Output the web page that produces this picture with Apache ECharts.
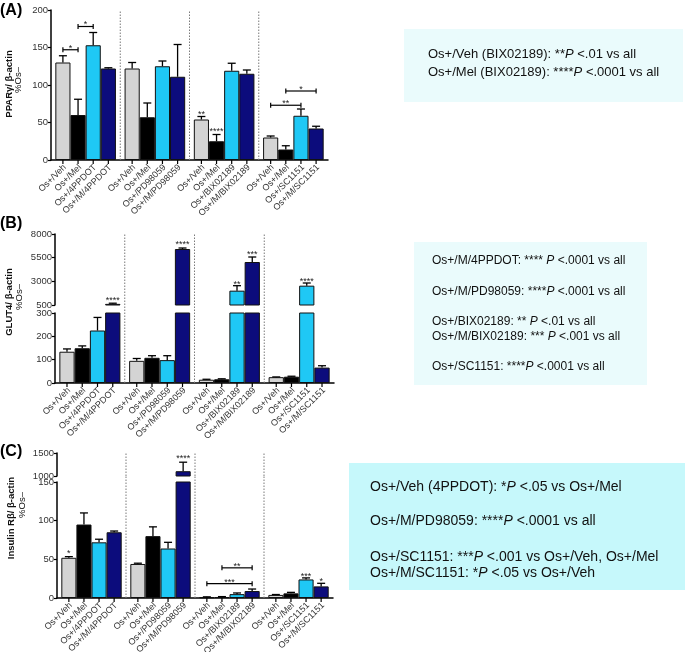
<!DOCTYPE html>
<html><head><meta charset="utf-8">
<script src="https://cdn.jsdelivr.net/npm/echarts/dist/echarts.min.js"></script>
<style>html,body{margin:0;padding:0;background:#fff}#c{width:691px;height:652px}</style>
</head><body><div id="c"></div>
<script>
// ---------- data ----------
const groups = ['4PPDOT', 'PD98059', 'BIX02189', 'SC1151'];
const seriesNames = ['Os+/Veh', 'Os+/Mel', 'Os+/inhibitor', 'Os+/M/inhibitor'];
const tickLabels = ['Os+/Veh','Os+/Mel','Os+/4PPDOT','Os+/M/4PPDOT',
  'Os+/Veh','Os+/Mel','Os+/PD98059','Os+/M/PD98059',
  'Os+/Veh','Os+/Mel','Os+/BIX02189','Os+/M/BIX02189',
  'Os+/Veh','Os+/Mel','Os+/SC1151','Os+/M/SC1151'];
const barColors = ['#d4d4d4', '#000000', '#1fc8f5', '#0c0c7c'];

// (A) PPARγ
const pparVeh  = [130, 122, 54, 30];
const pparMel  = [60, 57, 25, 14];
const pparInh  = [153, 125, 119, 59];
const pparMInh = [122, 111, 115, 42];
const pparVehTop  = [139, 130, 58, 32];
const pparMelTop  = [81, 76, 34, 19];
const pparInhTop  = [170, 132, 129, 68];
const pparMInhTop = [123, 154, 120, 45];
const pparBrackets = [{g:0,from:0,to:1,y:147,text:'*'},{g:0,from:1,to:2,y:178,text:'*'},
  {g:3,from:0,to:2,y:73,text:'**'},{g:3,from:1,to:3,y:92,text:'*'}];
const pparStars = [{g:2,b:0,y:63,text:'**'},{g:2,b:1,y:40,text:'****'}];

// (B) GLUT4
const glutVeh  = [134, 95, 14, 25];
const glutMel  = [149, 108, 16, 27];
const glutInh  = [225, 98, 2014, 2542];
const glutMInh = [620, 6415, 5042, 66];
const glutVehTop  = [146, 105, 16, 26];
const glutMelTop  = [159, 117, 18, 29];
const glutInhTop  = [281, 117, 2540, 2824];
const glutMInhTop = [690, 6520, 5570, 74];
const glutBrackets = [];
const glutStars = [{g:0,b:3,y:1134,text:'****'},{g:1,b:3,y:7049,text:'****'},
  {g:2,b:2,y:2824,text:'**'},{g:2,b:3,y:5993,text:'***'},{g:3,b:2,y:3141,text:'****'}];

// (C) Insulin Rβ
const insVeh  = [52, 44, 1, 4];
const insMel  = [95, 80, 1.3, 6];
const insInh  = [72, 64, 5, 24];
const insMInh = [85, 1104, 9, 15];
const insVehTop  = [53.5, 45, 1.5, 4.5];
const insMelTop  = [110, 92, 1.8, 7.3];
const insInhTop  = [76, 72, 6.5, 26];
const insMInhTop = [86.6, 1300, 11.6, 19];
const insBrackets = [{g:2,from:1,to:3,y:39,text:'**'},{g:2,from:0,to:3,y:18.5,text:'***'}];
const insStars = [{g:0,b:0,y:60,text:'*'},{g:1,b:3,y:1424,text:'****'},
  {g:3,b:2,y:30,text:'***'},{g:3,b:3,y:23.7,text:'*'}];

const boxAText = ['Os+/Veh (BIX02189): **{P} <.01 vs all', 'Os+/Mel (BIX02189): ****{P} <.0001 vs all'];
const boxBText = ['Os+/M/4PPDOT: **** {P} <.0001 vs all', 'Os+/M/PD98059: ****{P} <.0001 vs all',
  'Os+/BIX02189: ** {P} <.01 vs all', 'Os+/M/BIX02189: *** {P} <.001 vs all', 'Os+/SC1151: ****{P} <.0001 vs all'];
const boxCText = ['Os+/Veh (4PPDOT): *{P} <.05 vs Os+/Mel', 'Os+/M/PD98059: ****{P} <.0001 vs all',
  'Os+/SC1151: ***{P} <.001 vs Os+/Veh, Os+/Mel', 'Os+/M/SC1151: *{P} <.05 vs Os+/Veh'];

// ---------- layout ----------
const FF = '"Liberation Sans", Arial, Helvetica, sans-serif';
const GAP = 0.125;
const panels = [
  { means:[pparVeh,pparMel,pparInh,pparMInh], tops:[pparVehTop,pparMelTop,pparInhTop,pparMInhTop],
    brackets:pparBrackets, stars:pparStars,
    grids:[{left:51, top:10, width:277, height:150, min:0, max:200, interval:50, lower:true, extend:0}] },
  { means:[glutVeh,glutMel,glutInh,glutMInh], tops:[glutVehTop,glutMelTop,glutInhTop,glutMInhTop],
    brackets:glutBrackets, stars:glutStars,
    grids:[{left:55, top:234, width:279, height:71, min:500, max:8000, interval:2500, lower:false, extend:0},
           {left:55, top:313, width:279, height:70, min:0, max:300, interval:100, lower:true, extend:8}] },
  { means:[insVeh,insMel,insInh,insMInh], tops:[insVehTop,insMelTop,insInhTop,insMInhTop],
    brackets:insBrackets, stars:insStars,
    grids:[{left:57, top:453, width:276, height:23, min:1000, max:1500, interval:500, lower:false, extend:0},
           {left:57, top:482, width:276, height:116, min:0, max:150, interval:50, lower:true, extend:6}] }
];

function barX(api, cs, g, b) {
  const w = (cs.width / 4) * (1 - GAP) / 4;
  return api.coord([g, 0])[0] + (b - 1.5) * w;
}

const grid = [], xAxis = [], yAxis = [], series = [];
panels.forEach(p => {
  p.grids.forEach(L => {
    const gi = grid.length;
    grid.push({left:L.left, top:L.top, width:L.width, height:L.height, containLabel:false, outerBoundsMode:'none'});
    xAxis.push({type:'category', gridIndex:gi, data:groups,
      axisLine:{show:L.lower, lineStyle:{color:'#000', width:1.5}},
      axisTick:{show:false}, axisLabel:{show:false}, splitLine:{show:false}});
    yAxis.push({type:'value', gridIndex:gi, min:L.min, max:L.max, interval:L.interval,
      axisLine:{show:true, lineStyle:{color:'#000', width:1.5}},
      axisTick:{show:true, length:3, lineStyle:{color:'#000', width:1.2}},
      axisLabel:{fontSize:9.5, color:'#333', margin:3, fontFamily:FF, showMinLabel:true, showMaxLabel:true,
        formatter: v => String(v)},
      splitLine:{show:false}});
    p.means.forEach((arr, s) => {
      series.push({type:'bar', name:seriesNames[s], xAxisIndex:gi, yAxisIndex:gi,
        data: arr.map(v => v > L.min ? v : '-'),
        barGap:'0%', barCategoryGap:(GAP*100)+'%', clip:true, silent:true,
        itemStyle:{color:barColors[s], borderColor:'#111', borderWidth:1}});
    });
    // error bars, x ticks and x labels
    const errData = [];
    for (let g = 0; g < 4; g++) for (let s = 0; s < 4; s++) errData.push([g, p.means[s][g], p.tops[s][g], s]);
    series.push({type:'custom', xAxisIndex:gi, yAxisIndex:gi, data:errData, encode:{x:0, y:1}, z:5, silent:true,
      renderItem: (params, api) => {
        const cs = params.coordSys;
        const g = api.value(0), m = api.value(1), t = api.value(2), s = api.value(3);
        const cx = barX(api, cs, g, s);
        const bottom = cs.y + cs.height;
        const ch = [];
        if (t <= L.max && t >= L.min && t > m) {
          const pt = api.coord([g, t])[1];
          const pm = Math.min(api.coord([g, m])[1], bottom);
          ch.push({type:'line', shape:{x1:cx, y1:pm, x2:cx, y2:pt}, style:{stroke:'#000', lineWidth:1.3}});
          ch.push({type:'line', shape:{x1:cx-4, y1:pt, x2:cx+4, y2:pt}, style:{stroke:'#000', lineWidth:1.3}});
        }
        if (L.lower) {
          ch.push({type:'line', shape:{x1:cx, y1:bottom, x2:cx, y2:bottom+4}, style:{stroke:'#000', lineWidth:1.2}});
          ch.push({type:'text', x:cx+2, y:bottom+6, rotation:Math.PI/4,
            style:{text:tickLabels[g*4+s], font:'9px '+FF, fill:'#333', align:'right', verticalAlign:'middle',
                   textAlign:'right', textVerticalAlign:'middle'}});
        }
        return {type:'group', children:ch};
      }});
    // dotted separators
    series.push({type:'custom', xAxisIndex:gi, yAxisIndex:gi, data:[[1, L.min],[2, L.min],[3, L.min]], encode:{x:0, y:1}, silent:true, z:1,
      renderItem: (params, api) => {
        const cs = params.coordSys;
        const x = api.coord([api.value(0), 0])[0] - cs.width / 8;
        return {type:'line', shape:{x1:x, y1:cs.y + cs.height, x2:x, y2:cs.y - L.extend},
          style:{stroke:'#7a7a7a', lineWidth:1, lineDash:[1.5, 1.5]}};
      }});
    // annotations: brackets and stars
    const ann = [];
    p.brackets.forEach(a => ann.push({kind:'br', ...a}));
    p.stars.forEach(a => ann.push({kind:'st', ...a}));
    const annIn = ann.filter(a => a.y >= L.min && a.y <= L.max);
    if (annIn.length) {
      series.push({type:'custom', xAxisIndex:gi, yAxisIndex:gi, data:annIn.map((a, i) => [a.g, a.y, i]), encode:{x:0, y:1}, silent:true, z:6,
        renderItem: (params, api) => {
          const cs = params.coordSys;
          const a = annIn[api.value(2)];
          const y = api.coord([a.g, a.y])[1];
          const ch = [];
          let tx;
          if (a.kind === 'br') {
            const x1 = barX(api, cs, a.g, a.from), x2 = barX(api, cs, a.g, a.to);
            ch.push({type:'line', shape:{x1:x1, y1:y, x2:x2, y2:y}, style:{stroke:'#000', lineWidth:1.2}});
            ch.push({type:'line', shape:{x1:x1, y1:y-2.5, x2:x1, y2:y+2.5}, style:{stroke:'#000', lineWidth:1.2}});
            ch.push({type:'line', shape:{x1:x2, y1:y-2.5, x2:x2, y2:y+2.5}, style:{stroke:'#000', lineWidth:1.2}});
            tx = (x1 + x2) / 2;
            ch.push({type:'text', x:tx, y:y - 1.5, style:{text:a.text, font:'9px '+FF, fill:'#222', align:'center', verticalAlign:'middle', textAlign:'center', textVerticalAlign:'middle'}});
          } else {
            tx = barX(api, cs, a.g, a.b);
            ch.push({type:'text', x:tx, y:y + 2, style:{text:a.text, font:'9px '+FF, fill:'#222', align:'center', verticalAlign:'middle', textAlign:'center', textVerticalAlign:'middle'}});
          }
          return {type:'group', children:ch};
        }});
    }
  });
});

// ---------- graphics: labels and boxes ----------
function richLine(str) {
  const parts = str.split('{P}');
  return '{n|' + parts[0] + '}{i|P}{n|' + parts[1] + '}';
}
function boxTexts(lines, x, ys, size) {
  return lines.map((t, i) => ({type:'text', x:x, y:ys[i],
    style:{text:richLine(t), verticalAlign:'middle', textVerticalAlign:'middle',
      rich:{n:{fontSize:size, fontFamily:FF, fill:'#111'}, i:{fontSize:size, fontFamily:FF, fontStyle:'italic', fill:'#111'}}}}));
}
function vtext(txt, x, y, bold) {
  return {type:'text', x:x, y:y, rotation:Math.PI/2,
    style:{text:txt, font:(bold ? 'bold ' : '') + '9.5px ' + FF, fill:'#111', align:'center', verticalAlign:'middle', textAlign:'center', textVerticalAlign:'middle'}};
}
function ptext(txt, y) {
  return {type:'text', x:0, y:y, style:{text:txt, font:'bold 16px ' + FF, fill:'#000', verticalAlign:'middle', textVerticalAlign:'middle'}};
}
const graphic = [
  ptext('(A)', 11), ptext('(B)', 224), ptext('(C)', 452),
  vtext('PPARγ/ β-actin', 9, 84, true), vtext('%Os–', 18.5, 80, false),
  vtext('GLUT4/ β-actin', 9, 302, true), vtext('%Os–', 19.5, 297, false),
  vtext('Insulin Rβ/ β-actin', 11.5, 518, true), vtext('%Os–', 22, 505, false),
  {type:'rect', shape:{x:404, y:29, width:279, height:73}, style:{fill:'#eafbfc'}},
  {type:'rect', shape:{x:414, y:242, width:233, height:143}, style:{fill:'#eafbfc'}},
  {type:'rect', shape:{x:349, y:463, width:336, height:127}, style:{fill:'#c6f8fb'}},
  ...boxTexts(boxAText, 428, [54, 72], 13),
  ...boxTexts(boxBText, 432, [261, 292, 322, 337, 367], 12),
  ...boxTexts(boxCText, 370, [487, 521, 557, 573], 14)
];

const chart = echarts.init(document.getElementById('c'), null, {renderer:'canvas'});
chart.setOption({animation:false, backgroundColor:'#fff', grid, xAxis, yAxis, series, graphic});
</script>
</body></html>
